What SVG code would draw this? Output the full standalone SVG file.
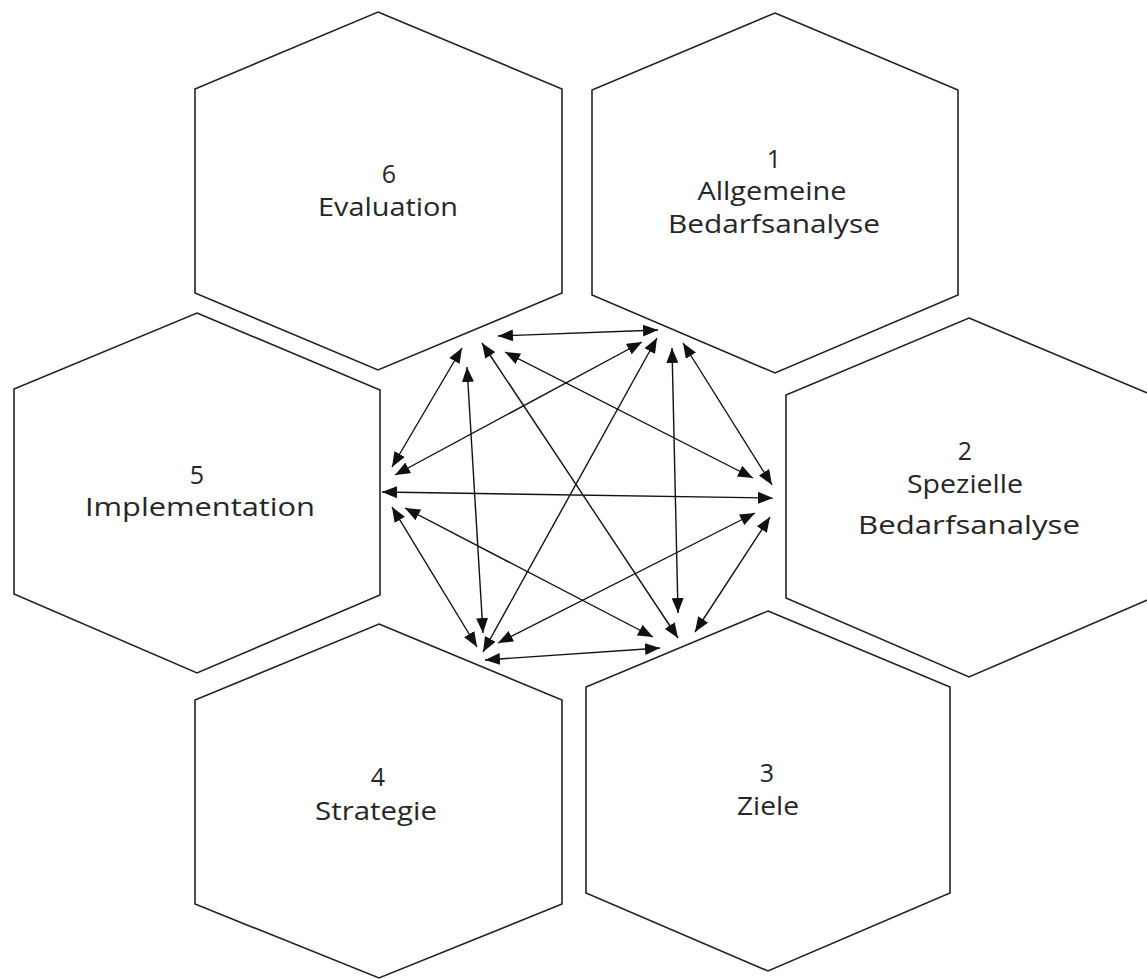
<svg xmlns="http://www.w3.org/2000/svg" width="1147" height="979" viewBox="0 0 1147 979">
<style>
.hex{fill:#fff;stroke:#222;stroke-width:1.6;stroke-linejoin:miter}
.lbl{font-family:"Open Sans","Noto Sans",sans-serif;font-size:25px;fill:#262626;text-anchor:middle}
.con{stroke:#111;stroke-width:1.4;fill:none;marker-start:url(#ah);marker-end:url(#ah)}
</style>
<defs>
<marker id="ah" markerUnits="userSpaceOnUse" markerWidth="16" markerHeight="12" refX="15" refY="6" orient="auto-start-reverse" viewBox="0 0 16 12">
<path d="M0,0 L15,6 L0,12 z" fill="#111"/>
</marker>
</defs>
<rect width="1147" height="979" fill="#fff"/>
<g id="node6">
<polygon class="hex" points="378,12 562,89 562,293 378,370 195,293 195,89"/>
<text class="lbl" x="389" y="183">6</text>
<text class="lbl" x="388" y="216" textLength="140" lengthAdjust="spacingAndGlyphs">Evaluation</text>
</g>
<g id="node1">
<polygon class="hex" points="775,13 958,90 958,295 775,373 592,295 592,90"/>
<text class="lbl" x="774" y="168">1</text>
<text class="lbl" x="772" y="200" textLength="149" lengthAdjust="spacingAndGlyphs">Allgemeine</text>
<text class="lbl" x="774" y="233" textLength="212" lengthAdjust="spacingAndGlyphs">Bedarfsanalyse</text>
</g>
<g id="node5">
<polygon class="hex" points="197,313 380,390 380,595 197,673 14,594 14,389"/>
<text class="lbl" x="197" y="484">5</text>
<text class="lbl" x="200" y="516" textLength="230" lengthAdjust="spacingAndGlyphs">Implementation</text>
</g>
<g id="node2">
<polygon class="hex" points="969,318 1152,395 1152,598 969,677 786,598 786,395"/>
<text class="lbl" x="965" y="460">2</text>
<text class="lbl" x="965" y="493" textLength="116" lengthAdjust="spacingAndGlyphs">Spezielle</text>
<text class="lbl" x="969" y="534" textLength="222" lengthAdjust="spacingAndGlyphs">Bedarfsanalyse</text>
</g>
<g id="node4">
<polygon class="hex" points="379,624 562,700 562,904 379,978 195,904 195,700"/>
<text class="lbl" x="378" y="786">4</text>
<text class="lbl" x="376" y="820" textLength="122" lengthAdjust="spacingAndGlyphs">Strategie</text>
</g>
<g id="node3">
<polygon class="hex" points="768,611 950,687 950,893 768,971 586,893 586,687"/>
<text class="lbl" x="767" y="782">3</text>
<text class="lbl" x="768" y="815" textLength="62" lengthAdjust="spacingAndGlyphs">Ziele</text>
</g>
<g id="connectors">
<line class="con" x1="498" y1="336" x2="658" y2="330"/>
<line class="con" x1="462" y1="348" x2="392" y2="467"/>
<line class="con" x1="467" y1="367" x2="483" y2="633"/>
<line class="con" x1="482" y1="343" x2="678" y2="638"/>
<line class="con" x1="505" y1="352" x2="753" y2="478"/>
<line class="con" x1="642" y1="342" x2="395" y2="475"/>
<line class="con" x1="657" y1="338" x2="483" y2="652"/>
<line class="con" x1="672" y1="348" x2="678" y2="613"/>
<line class="con" x1="683" y1="343" x2="772" y2="485"/>
<line class="con" x1="382" y1="492" x2="773" y2="498"/>
<line class="con" x1="392" y1="507" x2="477" y2="647"/>
<line class="con" x1="405" y1="508" x2="653" y2="637"/>
<line class="con" x1="755" y1="513" x2="498" y2="643"/>
<line class="con" x1="770" y1="517" x2="695" y2="632"/>
<line class="con" x1="485" y1="660" x2="660" y2="648"/>
</g>
</svg>
